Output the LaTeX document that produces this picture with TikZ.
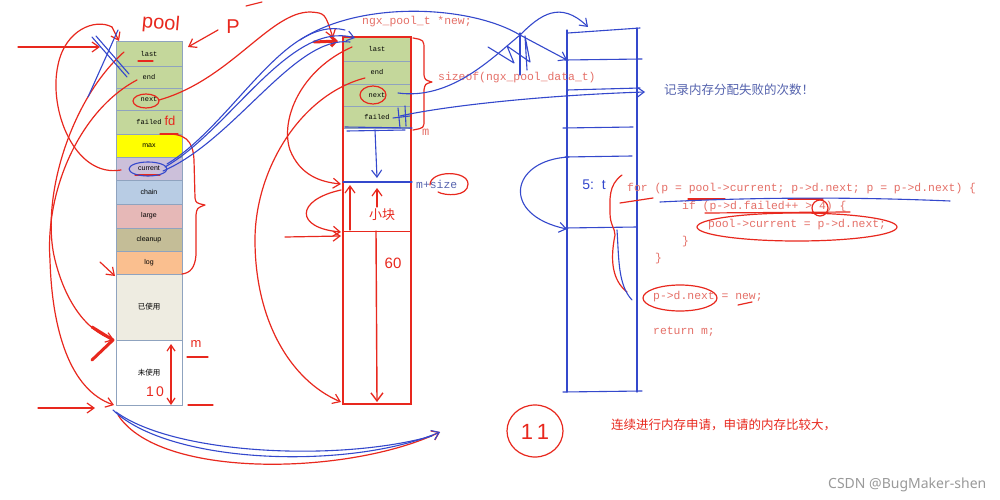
\documentclass[tikz,border=0pt]{standalone}
\usepackage{fontspec}
\setmainfont{Liberation Serif}
\newfontfamily\cjk{Noto Sans CJK SC}
\newfontfamily\mono{Liberation Mono}
\newfontfamily\lsans{Liberation Sans}
\newfontfamily\wmfont{Noto Sans}
\usetikzlibrary{arrows.meta}
\definecolor{penred}{HTML}{E8281E}
\definecolor{penblue}{HTML}{3448CC}
\definecolor{codered}{HTML}{E57068}
\definecolor{textblue}{HTML}{5563AE}
\definecolor{cgreen}{HTML}{C4D79B}
\definecolor{cellb}{HTML}{8FA3BF}
\definecolor{cmax}{HTML}{FFFF00}
\definecolor{ccur}{HTML}{CCC0DA}
\definecolor{cchain}{HTML}{B8CCE4}
\definecolor{clarge}{HTML}{E6B8B7}
\definecolor{cclean}{HTML}{C4BD97}
\definecolor{clog}{HTML}{FABF8F}
\definecolor{cused}{HTML}{EEECE1}
\definecolor{wmgray}{HTML}{9A9A9A}
\begin{document}
\begin{tikzpicture}[x=1pt,y=-1pt,
  rp/.style={draw=penred, line width=1.2pt, line cap=round, line join=round},
  bp/.style={draw=penblue, line width=1.1pt, line cap=round, line join=round},
  ar/.style={-{Straight Barb[length=7pt,width=10pt]}},
  cellL/.style={draw=cellb, line width=0.6pt, minimum width=66pt, inner sep=0pt, font=\lsans\fontsize{7}{8}\selectfont},
  cellLm/.style={cellL, fill=cgreen, font=\mono\fontsize{7}{8}\selectfont},
  cellM/.style={draw=cellb, line width=0.6pt, minimum width=68pt, inner sep=0pt, fill=cgreen, font=\mono\fontsize{7}{8}\selectfont},
  code/.style={anchor=west, inner sep=0pt, text=codered, font=\mono\fontsize{11.4}{12}\selectfont},
  hand/.style={inner sep=0pt, font=\lsans\fontsize{#1}{#1}\selectfont},
]
\useasboundingbox (0,0) rectangle (1000,500);
\fill[white] (0,0) rectangle (1000,500);

% ---------- left pool column ----------
\node[cellLm, minimum height=25pt] (plast) at (149,53.5) {last};
\node[cellLm, minimum height=22pt] (pend) at (149,77) {end};
\node[cellLm, minimum height=22pt] (pnext) at (149,99) {next};
\node[cellLm, minimum height=24pt] (pfailed) at (149,122) {failed};
\node[cellL, fill=cmax, minimum height=23pt] (pmax) at (149,145.5) {max};
\node[cellL, fill=ccur, minimum height=23pt] (pcur) at (149,168.5) {current};
\node[cellL, fill=cchain, minimum height=24pt] (pchain) at (149,192) {chain};
\node[cellL, fill=clarge, minimum height=24pt] (plarge) at (149,216) {large};
\node[cellL, fill=cclean, minimum height=23pt] (pclean) at (149,239.5) {cleanup};
\node[cellL, fill=clog, minimum height=23pt] (plog) at (149,262.5) {log};
\node[cellL, fill=cused, minimum height=66pt, font=\cjk\fontsize{7.5}{8}\selectfont] (pused) at (149,307) {已使用};
\node[cellL, fill=white, minimum height=65pt, font=\cjk\fontsize{7.5}{8}\selectfont] (punused) at (149,372.5) {未使用};

% ---------- middle column ----------
\node[cellM, minimum height=24pt] (mlast) at (377,49) {last};
\node[cellM, minimum height=23pt] (mend) at (377,72.5) {end};
\node[cellM, minimum height=22pt] (mnext) at (377,95) {next};
\node[cellM, minimum height=22pt] (mfailed) at (377,117) {failed};
\draw[draw=penred, line width=2pt] (343,37) rectangle (411,404);
\coordinate (msz) at (343,182);
\draw[bp] (msz) -- (412,182);
\draw[draw=penred, line width=1pt] (343,231) -- (411,231);

% ---------- right blue column ----------
\draw[bp] (567,30) -- (567,392);
\draw[bp] (637,28) -- (637,392);
\draw[bp] (563,392) -- (642,391);
\draw[bp] (568,33) -- (640,28);
\draw[bp] (565,60) -- (642,59);
\draw[bp] (567,90) -- (640,88);
\draw[bp] (563,128) -- (633,127);
\draw[bp] (565,157) -- (632,156);
\draw[bp] (565,228) -- (637,227);
\coordinate (rtop) at (588,27);
\coordinate (rarr) at (567,60);
\coordinate (rfail) at (645,92);
\coordinate (rlow) at (567,229);

% ---------- texts ----------
\node[code, text=codered] (newdecl) at (362,22) {ngx\_pool\_t *new;};
\node[code] (sizeof) at (438,78) {sizeof(ngx\_pool\_data\_t)};
\node[code, font=\mono\fontsize{12}{12}\selectfont] (mlab) at (422,132) {m};
\node[code, text=textblue] (msize) at (416,184) {m+size};
\node[anchor=west, inner sep=0pt, text=textblue, font=\cjk\fontsize{12.5}{13}\selectfont] (failnote) at (664,90) {记录内存分配失败的次数！};
\node[code] (c1) at (627,189) {for (p = pool->current; p->d.next; p = p->d.next) \{};
\node[code] (c2) at (682,207) {if (p->d.failed++ > 4) \{};
\node[code] (c3) at (708,225) {pool->current = p->d.next;};
\node[code] (c4) at (682,242) {\}};
\node[code] (c5) at (655,259) {\}};
\node[code] (c6) at (653,297) {p->d.next = new;};
\node[code] (c7) at (653,332) {return m;};
\node[anchor=west, inner sep=0pt, text=penred, font=\cjk\fontsize{12.5}{13}\selectfont] (note2) at (611,425) {连续进行内存申请，申请的内存比较大，};
\node[anchor=west, inner sep=0pt, text=wmgray, font=\wmfont\fontsize{14}{14}\selectfont] (wm) at (828,485) {CSDN @BugMaker-shen};

% ---------- handwritten red ----------
\node[hand=20, text=penred, rotate=-5] (poolw) at (161,24) {pool};
\node[hand=20, text=penred] (pw) at (233,27) {P};
\draw[rp] (246,6) -- (262,2);
\node[hand=13, text=penred] (fdw) at (170,121) {fd};
\node[hand=13, text=penred] (mw) at (196,344) {m};
\node[hand=14, text=penred] (tenw) at (155,392) {1\,0};
\node[hand=15, text=penred] (sixty) at (393,263) {60};
\node[hand=13, text=penred] (xk) at (382,215) {\cjk 小块};
\draw[rp] (535,431) ellipse [x radius=28pt, y radius=26pt];
\node[hand=22, text=penred] (eleven) at (535,432) {1\,1};

\draw[rp,ar] (18,47) -- (100,47);
\draw[rp,ar] (112,27) -- (119,41);
\draw[rp,ar] (218,30) -- (188,47);
\draw[rp] (146,101) ellipse [x radius=13pt, y radius=7pt];
\draw[rp,ar] (159,100) .. controls (230,80) and (270,12) .. (310,12) .. controls (325,13) .. (333,38);
\draw[rp, line width=3pt, -{Straight Barb[length=5pt]}] (314,42) -- (338,41);
\draw[rp] (138,61) -- (153,61);
\draw[rp] (135,175) -- (160,175);
\draw[rp] (160,134) -- (178,134);
\draw[rp] (121,170) .. controls (75,178) and (48,110) .. (58,65) .. controls (65,30) and (95,18) .. (112,27);
\draw[rp,ar] (124,52) .. controls (70,100) and (40,200) .. (55,260) .. controls (65,300) and (85,330) .. (114,340);
\draw[rp, line width=3pt] (92,327) -- (113,340) -- (92,360);
\draw[rp,ar] (137,80) .. controls (80,110) and (45,190) .. (50,260) .. controls (52,330) and (70,390) .. (114,405);
\draw[rp,ar] (100,262) -- (115,276);
\draw[rp,ar] (38,408) -- (95,408);
\draw[rp] (163,134) .. controls (185,133) and (193,140) .. (194,160) -- (195,198) .. controls (196,203) .. (205,205) .. controls (197,208) .. (196,215) -- (196,255) .. controls (195,268) and (190,273) .. (182,274);
\draw[rp,{Straight Barb[length=6pt,width=8pt]}-{Straight Barb[length=6pt,width=8pt]}] (171,344) -- (171,405);
\draw[rp] (187,357) -- (208,357);
\draw[rp] (188,405) -- (213,405);
\draw[rp,ar] (118,415) .. controls (160,480) and (350,475) .. (440,432);

% middle column red
\draw[rp,ar] (352,47) .. controls (300,70) and (280,120) .. (290,150) .. controls (300,175) and (320,182) .. (341,184);
\draw[rp,ar] (365,78) .. controls (300,95) and (255,170) .. (255,240) .. controls (255,320) and (290,380) .. (341,402);
\draw[rp,ar] (341,190) .. controls (295,200) and (295,228) .. (341,232);
\draw[rp,ar] (285,237) -- (341,236);
\draw[rp] (413,38) .. controls (424,40) .. (424,50) -- (424,75) .. controls (425,80) .. (432,82) .. controls (425,84) .. (424,90) -- (424,120) .. controls (424,128) .. (413,130);
\draw[rp] (373,95) ellipse [x radius=13pt, y radius=9pt];
\draw[rp, -{Straight Barb[length=8pt,width=12pt]}, line width=1.4pt] (376,231) -- (377,402);
\draw[rp, ar] (350,230) -- (350,185);
\draw[rp, ar] (377,207) -- (377,188);
\draw[rp] (430,185) .. controls (430,170) and (468,170) .. (468,184) .. controls (468,197) and (445,196) .. (438,192);

% code annotations red
\draw[rp] (622,175) .. controls (608,185) and (610,200) .. (610,213) .. controls (610,225) and (615,228) .. (615,235) .. controls (610,260) and (612,280) .. (627,292);
\draw[rp] (620,203) -- (653,198);
\draw[rp] (688,199) -- (725,199);
\draw[rp] (788,199) -- (823,199);
\draw[rp] (820,208) ellipse [x radius=8pt, y radius=8pt];
\draw[rp] (705,213) -- (850,212);
\draw[rp] (797,227) ellipse [x radius=100pt, y radius=14pt];
\draw[rp] (680,298) ellipse [x radius=37pt, y radius=13pt];
\draw[rp] (738,305) -- (752,302);

% ---------- handwritten blue ----------
\draw[bp] (92,37) -- (127,77);
\draw[bp] (96,36) -- (129,74);
\draw[bp] (88,97) -- (118,30);
\draw[bp] (148,169) ellipse [x radius=19pt, y radius=7pt];
\draw[bp,ar] (165,167) .. controls (230,130) and (290,20) .. (355,38);
\draw[bp] (167,164) .. controls (232,125) and (285,15) .. (345,30);
\draw[bp] (163,171) .. controls (235,140) and (295,35) .. (350,42);
\draw[bp,ar] (300,40) .. controls (360,0) and (470,5) .. (520,35) -- (rarr);
\draw[bp,ar] (398,93) .. controls (450,100) and (490,60) .. (520,35) .. controls (540,15) and (560,0) .. (rtop);
\draw[bp] (488,47) -- (514,63) -- (507,46) -- (530,62) -- (525,36) -- (527,70);
\draw[bp] (520,33) -- (520,75);
\draw[bp,ar] (400,116) .. controls (450,105) and (550,95) .. (rfail);
\draw[bp] (345,127) -- (412,128);
\draw[bp] (347,131) -- (405,130);
\draw[bp] (398,108) -- (400,128);
\draw[bp] (405,106) -- (406,126);
\draw[bp] (393,118) -- (410,116);
\draw[bp,ar] (375,130) -- (377,178);
\draw[bp,ar] (569,157) .. controls (510,160) and (500,215) .. (rlow);
\node[hand=14, text=penblue] (fivet) at (594,185) {5:\ \ t};
\draw[bp] (617,230) .. controls (619,260) and (618,285) .. (632,300);
\draw[bp] (660,202) .. controls (780,196) and (880,198) .. (950,201);
\draw[bp,ar] (113,410) .. controls (170,465) and (350,470) .. (440,432);
\draw[bp] (116,412) .. controls (175,455) and (340,462) .. (432,436);
\end{tikzpicture}
\end{document}
